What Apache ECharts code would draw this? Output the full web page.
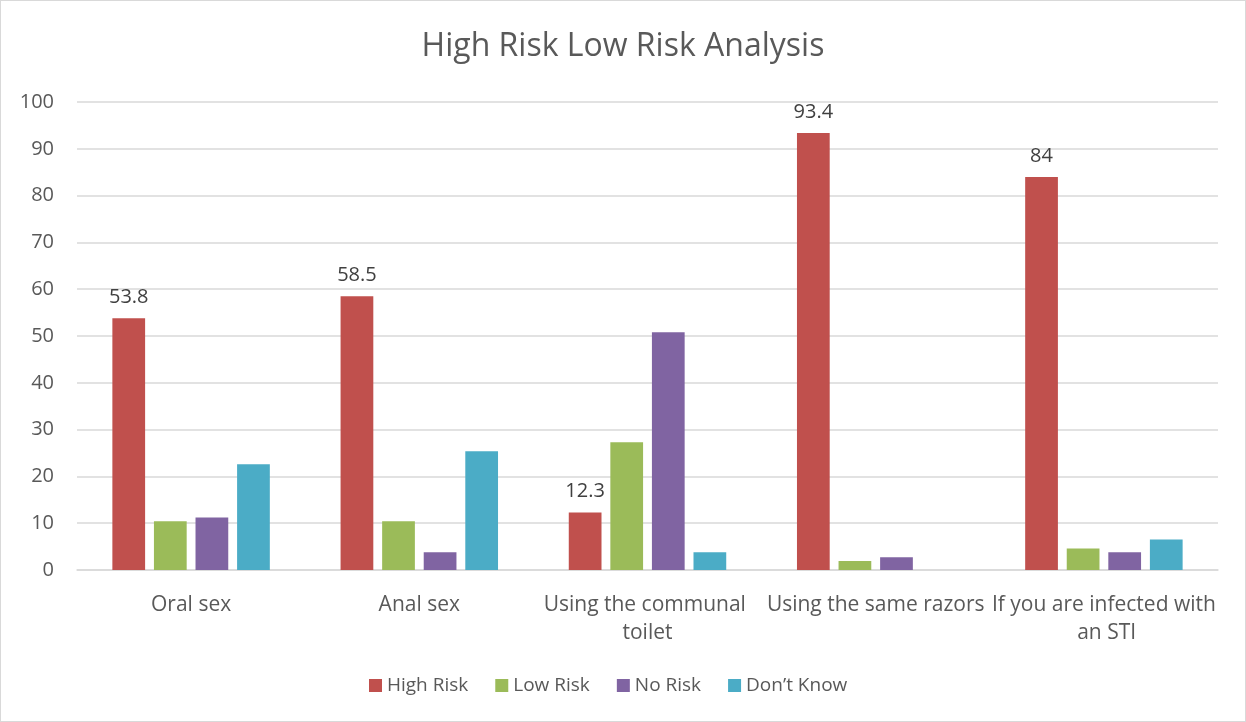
<!DOCTYPE html>
<html>
<head>
<meta charset="utf-8">
<script src="https://cdn.jsdelivr.net/npm/echarts@6/dist/echarts.min.js"></script>
<style>
  html, body { margin: 0; padding: 0; background: #fff; }
  #chart { width: 1246px; height: 722px; box-sizing: border-box; border: 1px solid #d9d9d9; }
</style>
</head>
<body>
<div id="chart"></div>
<script>
// Survey responses (%) per perceived transmission route
const categories = ['Oral sex', 'Anal sex', 'Using the communal toilet', 'Using the same razors', 'If you are infected with an STI'];
const highRisk = [53.8, 58.5, 12.3, 93.4, 84];
const lowRisk = [10.4, 10.4, 27.3, 1.9, 4.6];
const noRisk = [11.2, 3.8, 50.8, 2.7, 3.8];
const dontKnow = [22.6, 25.4, 3.8, 0, 6.5];
const seriesNames = ['High Risk', 'Low Risk', 'No Risk', 'Don\u2019t Know'];
const colors = ['#c0504d', '#9bbb59', '#8064a2', '#4bacc6'];

const font = '"Open Sans", sans-serif';
const chart = echarts.init(document.getElementById('chart'));

const dataSets = [highRisk, lowRisk, noRisk, dontKnow];
const series = dataSets.map((d, i) => ({
  name: seriesNames[i],
  type: 'bar',
  data: d,
  barGap: '27%',
  barCategoryGap: '31%',
  itemStyle: { color: colors[i] },
  label: i === 0 ? {
    show: true,
    position: 'top',
    distance: 11,
    color: '#404040',
    fontSize: 20,
    fontFamily: font
  } : { show: false }
}));

chart.setOption({
  animation: false,
  title: {
    text: 'High Risk Low Risk Analysis',
    left: 'center',
    top: 25,
    textStyle: { fontFamily: font, fontWeight: 'normal', fontSize: 32, color: '#595959' }
  },
  legend: {
    bottom: 21,
    left: 363,
    itemWidth: 13,
    itemHeight: 13,
    itemGap: 27,
    icon: 'rect',
    textStyle: { fontFamily: font, fontSize: 19, color: '#595959' },
    data: seriesNames
  },
  grid: { left: 76, right: 27, top: 101, bottom: 151 },
  xAxis: {
    type: 'category',
    data: categories,
    axisLine: { lineStyle: { color: '#d9d9d9', width: 1.5 } },
    axisTick: { show: false },
    axisLabel: {
      fontFamily: font,
      fontSize: 21,
      color: '#595959',
      margin: 21,
      width: 226,
      overflow: 'break',
      lineHeight: 28,
      interval: 0
    }
  },
  yAxis: {
    type: 'value',
    min: 0,
    max: 100,
    interval: 10,
    axisLine: { show: false },
    axisTick: { show: false },
    splitLine: { lineStyle: { color: '#d9d9d9', width: 1.5 } },
    axisLabel: { fontFamily: font, fontSize: 20, color: '#595959', margin: 23 }
  },
  series: series
});
</script>
</body>
</html>
